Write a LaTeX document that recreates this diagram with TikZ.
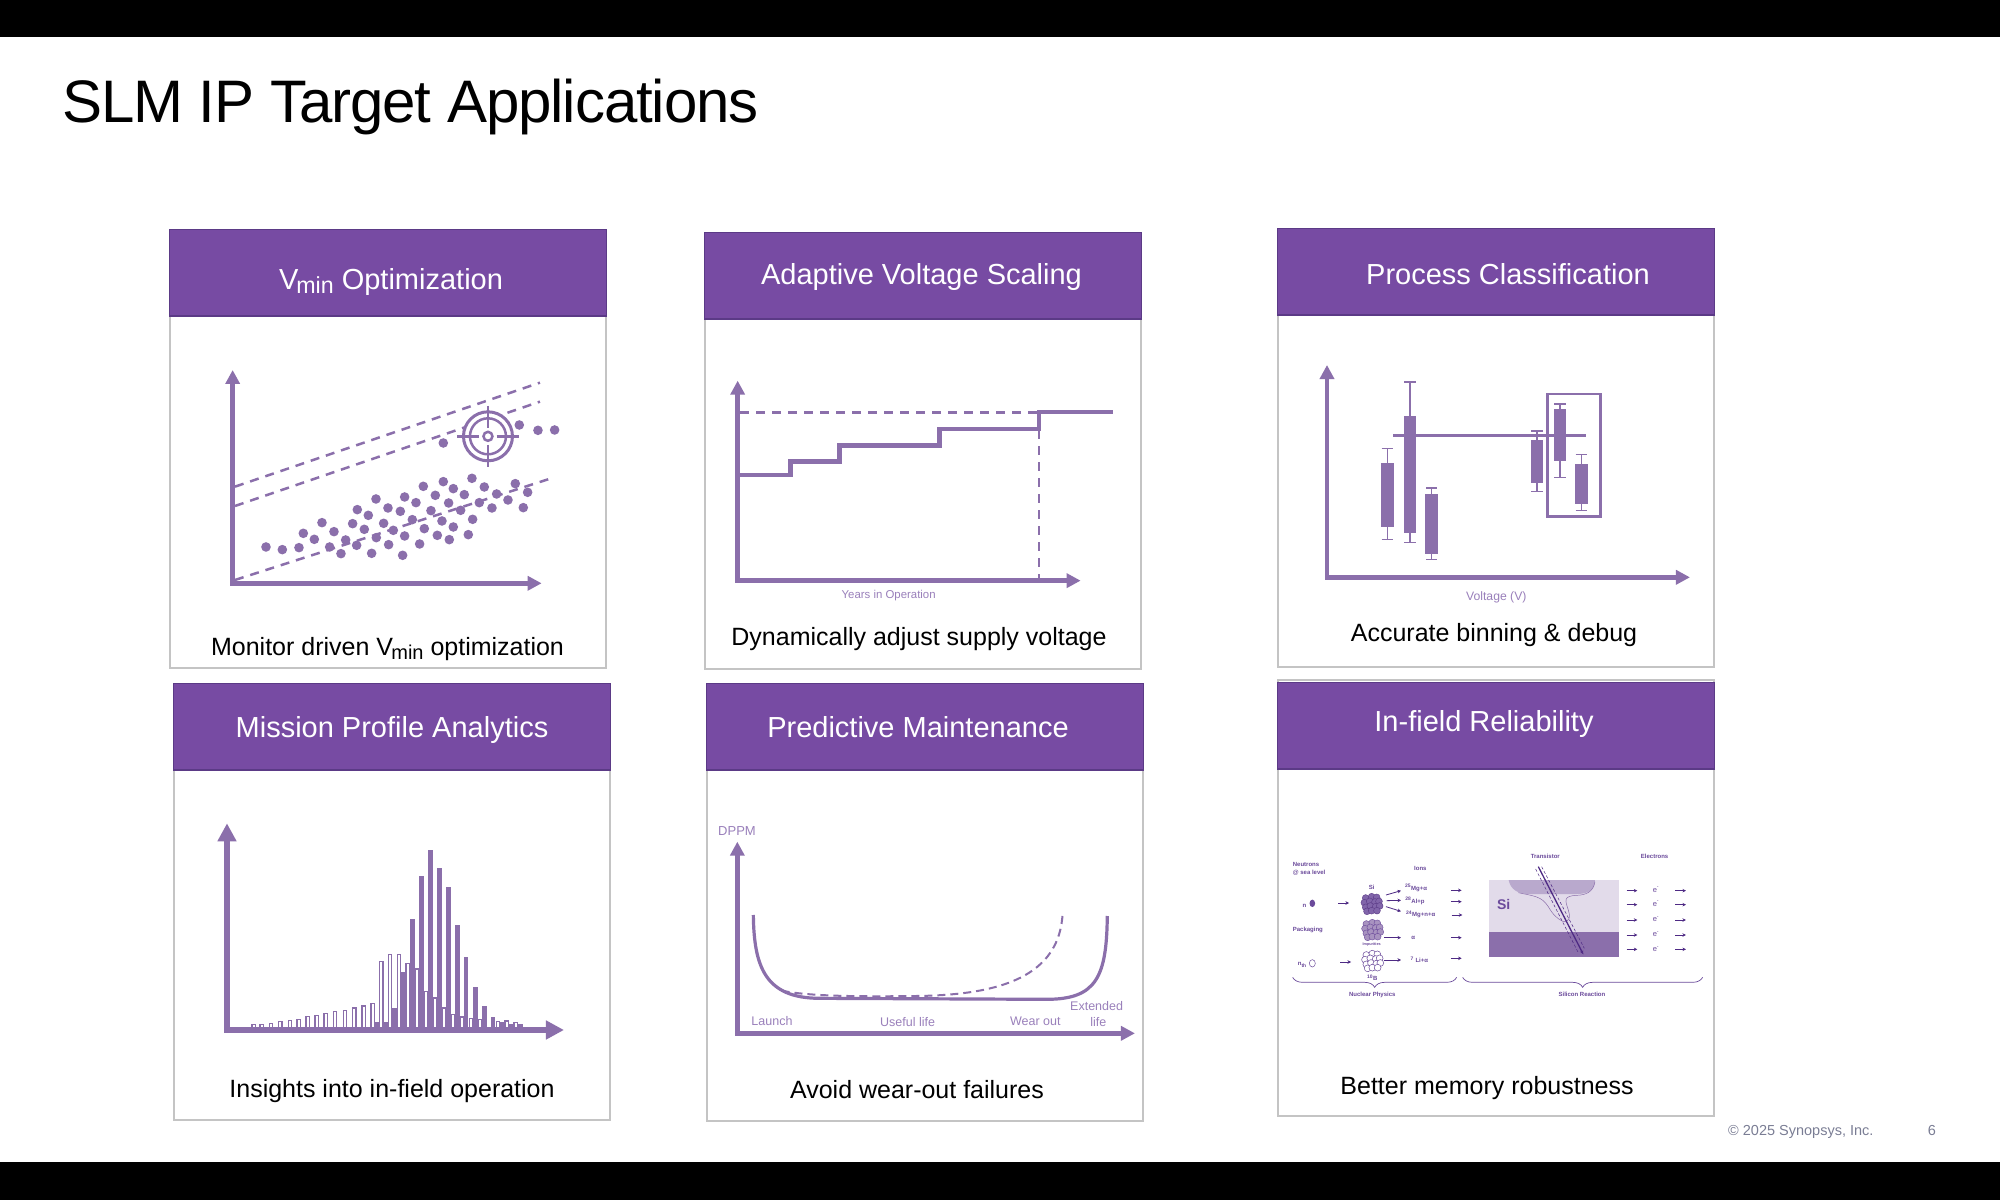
\documentclass[tikz,border=0pt]{standalone}
\usepackage{fontspec}
\usepackage{graphicx}
\setmainfont{Liberation Sans}
\usepackage{tikz}
\usetikzlibrary{positioning}
\usetikzlibrary{arrows.meta, decorations.pathreplacing}
\definecolor{headpurple}{HTML}{774BA3}
\definecolor{headedge}{HTML}{5B3A86}
\definecolor{chartpurple}{HTML}{8B6FAB}
\definecolor{labelpurple}{HTML}{9A80BB}
\definecolor{darkpurple}{HTML}{6B4A9B}
\definecolor{strikepurple}{HTML}{4E2A84}
\definecolor{panelgray}{HTML}{C4C4C4}
\definecolor{footgray}{HTML}{7A7D94}
\tikzstyle{panelbody} = [rectangle, minimum width=436pt, draw=panelgray, line width=2pt, fill=white, outer sep=0pt, inner sep=0pt]
\tikzstyle{head} = [rectangle, minimum width=437pt, minimum height=86.5pt, draw=headedge, line width=1.5pt, fill=headpurple, outer sep=0pt, inner sep=0pt]
\tikzstyle{headtext} = [anchor=base, inner sep=0pt, text=white, font=\fontsize{29}{34}\selectfont]
\tikzstyle{caption} = [anchor=base, inner sep=0pt, text=black, font=\fontsize{25}{29}\selectfont]
\tikzstyle{axis} = [draw=chartpurple, line width=5pt, {Triangle[length=14pt,width=14pt]}-{Triangle[length=14pt,width=14pt]}]
\tikzstyle{chartline} = [draw=chartpurple, line width=4.5pt]
\tikzstyle{limit} = [draw=chartpurple, line width=2.5pt, dash pattern=on 9pt off 7pt]
\tikzstyle{axistext} = [anchor=base, inner sep=0pt, text=labelpurple]
\tikzstyle{small} = [anchor=base, inner sep=0pt, text=darkpurple, font=\fontsize{6}{7}\selectfont\bfseries]
\tikzstyle{arrow} = [draw=strikepurple, line width=0.8pt, -{Stealth[length=3.5pt,width=3.5pt]}]
\tikzstyle{zoomed} = [x=0.3333pt, y=-0.3333pt]
\tikzset{atomdark/.style={draw=headedge, fill=darkpurple!85, line width=0.4pt},
  atommid/.style={draw=darkpurple, fill=chartpurple!75, line width=0.4pt},
  atomopen/.style={draw=darkpurple, fill=white, line width=0.5pt}}
\newcommand{\vmin}{V\kern-0.07em\raisebox{-0.16em}{\scalebox{0.8}{min}}}
\newcommand{\atoms}[3]{\foreach \dx/\dy in {-18/-18,0/-22,15/-20,-22/-4,-6/-8,10/-6,22/-8,-18/10,-4/6,12/8,24/6,-14/22,0/20,16/20}
  \draw[#3] (#1+\dx,#2+\dy) circle [radius=3.4pt];}

\begin{document}
\begin{tikzpicture}[x=1pt, y=-1pt]
    \useasboundingbox (0,0) rectangle (2000,1200);
    \fill[black] (0,0) rectangle (2000,37);
    \fill[black] (0,1162) rectangle (2000,1200);
    \node (title) [anchor=base west, inner sep=0pt, font=\fontsize{60}{70}\selectfont\addfontfeatures{LetterSpace=-1.8}] at (62,122) {SLM IP Target Applications};

    % panels
    \node (vminbody) [panelbody, minimum height=352pt] at (388,492) {};
    \node (vminhead) [head, above=0pt of vminbody] {};
    \node (avsbody) [panelbody, minimum height=350pt] at (923,494) {};
    \node (avshead) [head, above=0pt of avsbody] {};
    \node (procbody) [panelbody, minimum height=352pt] at (1496,491) {};
    \node (prochead) [head, above=0pt of procbody] {};
    \node (missionbody) [panelbody, minimum height=350pt] at (392,945) {};
    \node (missionhead) [head, above=0pt of missionbody] {};
    \node (maintbody) [panelbody, minimum height=351pt] at (925,945.5) {};
    \node (mainthead) [head, above=0pt of maintbody] {};
    \node (relbody) [panelbody, minimum height=436pt] at (1495.5,898) {};
    \node (relhead) [head] at (1496,725.5) {};

    \node (vmintitle) [headtext] at (391,289) {\vmin\ Optimization};
    \node (avstitle) [headtext] at (921.5,284) {Adaptive Voltage Scaling};
    \node (proctitle) [headtext] at (1508,284) {Process Classification};
    \node (missiontitle) [headtext] at (392,737) {Mission Profile Analytics};
    \node (mainttitle) [headtext] at (918,737) {Predictive Maintenance};
    \node (reltitle) [headtext] at (1484,731) {In-field Reliability};

    \node (vmincap) [caption] at (387.5,655) {Monitor driven \vmin\ optimization};
    \node (avscap) [caption] at (919,645) {Dynamically adjust supply voltage};
    \node (proccap) [caption] at (1494,641) {Accurate binning \& debug};
    \node (missioncap) [caption] at (392,1097) {Insights into in-field operation};
    \node (maintcap) [caption] at (917,1098) {Avoid wear-out failures};
    \node (relcap) [caption] at (1487,1094) {Better memory robustness};

    \node (copyright) [anchor=base west, inner sep=0pt, text=footgray, font=\fontsize{14.5}{17}\selectfont] at (1728,1135) {© 2025 Synopsys, Inc.};
    \node (pagenum) [anchor=base, inner sep=0pt, text=footgray, font=\fontsize{14.5}{17}\selectfont] at (1932,1135) {6};

    % vmin chart
    \begin{scope}[shift={(160,220)}, zoomed]
        \draw [limit] (225,800) -- (1140,488);
        \draw [limit] (225,858) -- (1140,545);
        \draw [limit] (225,1080) -- (1180,773);
        \draw [axis] (218,450) -- (218,1090) -- (1145,1090);
        \foreach \x/\y in {318/981,367/989,417/983,430/940,463/958,486/908,522/935,509/981,543/1001,557/960,578/911,592/869,625/886,613/928,590/976,649/953,635/1000,648/837,684/864,671/910,700/931,686/974,734/948,728/1006,721/874,757/899,734/831,768/848,813/872,793/926,779/972,790/799,826/826,866/849,846/903,832/946,868/959,880/921,850/785,880/806,913/824,902/871,938/898,925/944,936/775,973/801,958/848,1010/822,996/864,1044/840,1066/791,1103/817,1090/863,850/669,1078/615,1134/631,1184/630}
            \fill[chartpurple] (\x,\y) circle [radius=4.8pt];
        \draw[chartpurple, line width=3pt, fill=white] (984,649) circle [radius=24.5pt];
        \draw[chartpurple, line width=2.5pt] (984,649) circle [radius=18pt];
        \draw[chartpurple, line width=2.5pt] (984,649) circle [radius=4.5pt];
        \draw[chartpurple, line width=2.5pt] (892,649) -- (958,649) (1010,649) -- (1076,649) (984,558) -- (984,623) (984,675) -- (984,742);
    \end{scope}

    % voltage steps
    \begin{scope}[shift={(700,360)}, zoomed]
        \draw [limit] (120,158) -- (1015,158);
        \draw [limit] (1017,210) -- (1017,662);
        \draw [axis, line width=4.5pt] (113,62) -- (113,662) -- (1142,662);
        \draw [chartline] (120,345) -- (272,345) -- (272,305) -- (418,305) -- (418,257) -- (718,257) -- (718,207) -- (1017,207) -- (1017,156) -- (1240,156);
        \node (yearstext) [axistext, font=\fontsize{11.4}{14}\selectfont] at (566,715) {Years in Operation};
    \end{scope}

    % process candles
    \begin{scope}[shift={(1290,350)}, zoomed]
        \draw [axis, line width=4.5pt] (111,45) -- (111,682) -- (1200,682);
        \foreach \x/\boxtop/\boxbot/\whtop/\whbot in {292/338/530/295/568,360/197/550/96/577,425/433/611/414/628,741/270/399/243/425,810/178/333/162/383,874/342/461/314/481}{
            \draw[chartpurple, line width=1.5pt] (\x,\whtop) -- (\x,\whbot) (\x-17,\whtop) -- (\x+17,\whtop) (\x-17,\whbot) -- (\x+17,\whbot);
            \fill[chartpurple] (\x-19,\boxtop) rectangle (\x+19,\boxbot);
        }
        \draw[chartpurple, line width=3pt] (310,256) -- (888,256);
        \draw[chartpurple, line width=2.8pt] (772,132) rectangle (932,499);
        \node (volttext) [axistext, font=\fontsize{12.2}{15}\selectfont] at (619,752) {Voltage (V)};
    \end{scope}

    % mission histogram
    \begin{scope}[shift={(170,800)}, zoomed]
        \foreach \x/\t in {251/674,275/673,303/671,331/665,360/661,386/658,413/650,440/646,467/640,495/634,525/631,553/624,581/618,608/611,634/484,660/463,687/463,713/490,740/507,767/574,794/594,822/624,849/644,876/651,903/655,930/659,984/665,1010/663,1037/668}
            \draw[chartpurple, line width=1.1pt, fill=white] (\x-5,690) rectangle (\x+5,\t);
        \foreach \x/\t in {621/667,648/667,674/624,701/517,727/358,754/227,781/149,808/203,835/261,862/375,888/472,916/562,943/617,969/650,996/667,1023/672,1051/672}
            \fill[chartpurple] (\x-7,690) rectangle (\x+7,\t);
        \draw [axis, line width=5.5pt, {Triangle[length=18pt,width=18pt]}-{Triangle[length=18pt,width=18pt]}] (171,70) -- (171,690) -- (1182,690);
    \end{scope}

    % bathtub curve
    \begin{scope}[shift={(700,810)}, zoomed]
        \draw [axis, line width=4.5pt] (112,95) -- (112,670) -- (1305,670);
        \draw[chartpurple, line width=3.2pt] (160,315) .. controls (162,470) and (195,565) .. (360,565) -- (1040,568) .. controls (1190,568) and (1220,500) .. (1222,318);
        \draw[chartpurple, line width=2pt, dash pattern=on 8pt off 5pt] (245,542) .. controls (330,560) and (500,560) .. (650,558) .. controls (900,555) and (1080,500) .. (1088,308);
        \node (dppmtext) [axistext, font=\fontsize{13}{15}\selectfont] at (111,76) {DPPM};
        \node (launchtext) [axistext, font=\fontsize{12.5}{15}\selectfont] at (216,647) {Launch};
        \node (usefultext) [axistext, font=\fontsize{12.5}{15}\selectfont] at (623,649) {Useful life};
        \node (weartext) [axistext, font=\fontsize{12.5}{15}\selectfont] at (1006,647) {Wear out};
        \node (extendtext) [axistext, font=\fontsize{12.5}{15}\selectfont] at (1190,603) {Extended};
        \node (lifetext) [axistext, font=\fontsize{12.5}{15}\selectfont] at (1195,649) {life};
    \end{scope}

    % soft error physics
    \begin{scope}[shift={(1270,820)}, zoomed]
        \node (neutrons) [small, anchor=base west] at (68,139) {Neutrons};
        \node (sealevel) [small, anchor=base west] at (68,162) {@ sea level};
        \node (ions) [small] at (451,151) {Ions};
        \node (sitext) [small] at (305,207) {Si};
        \node (ntext) [small] at (103,262) {n};
        \node (packaging) [small, anchor=base west] at (68,335) {Packaging};
        \node (impurities) [small, font=\fontsize{3.8}{5}\selectfont\bfseries] at (305,377) {Impurities};
        \node (nthtext) [small] at (97,437) {n\textsubscript{th}};
        \node (boron) [small] at (307,483) {\textsuperscript{10}B};
        \node (mgalpha) [small] at (438,211) {\textsuperscript{25}Mg+α};
        \node (alp) [small] at (435,249) {\textsuperscript{28}Al+p};
        \node (mgn) [small] at (452,290) {\textsuperscript{24}Mg+n+α};
        \node (alpha) [small] at (430,358) {α};
        \node (lialpha) [small] at (448,428) {\textsuperscript{7} Li+α};
        \node (nuclear) [small] at (307,531) {Nuclear Physics};
        \node (silicon) [small] at (936,530) {Silicon Reaction};
        \node (transistor) [small] at (826,115) {Transistor};
        \node (electrons) [small] at (1154,115) {Electrons};
        \fill[darkpurple] (127,250) ellipse [x radius=2.8pt, y radius=3.7pt];
        \draw[darkpurple, line width=0.5pt, fill=white] (127,430) ellipse [x radius=3pt, y radius=3.7pt];
        \atoms{305}{252}{atomdark}
        \atoms{307}{330}{atommid}
        \atoms{307}{423}{atomopen}
        % arrows
        \foreach \xa/\ya/\xb/\yb in {205/249/237/249,348/225/393/212,350/242/393/241,348/260/393/274,343/353/393/353,211/426/243/426,343/420/393/420,543/211/575/211,543/245/575/245,545/285/577/285,543/353/575/353,543/415/575/415}
            \draw [arrow] (\xa,\ya) -- (\xb,\yb);
        \foreach \y/\b in {212/216,254/258,300/305,345/350,388/395}{
            \draw [arrow] (1070,\y) -- (1102,\y);
            \draw [arrow] (1216,\y) -- (1248,\y);
            \node [small, font=\fontsize{7.5}{8}\selectfont] at (1158,\b) {e\textsuperscript{-}};
        }
        % silicon block
        \fill[chartpurple!25] (658,180) rectangle (1047,337);
        \fill[chartpurple] (658,337) rectangle (1047,412);
        \fill[chartpurple!60] (716,180) .. controls (722,210) and (745,222) .. (780,222) -- (920,222) .. controls (955,222) and (975,210) .. (975,180) -- cycle;
        \draw[chartpurple, line width=0.5pt] (745,218) .. controls (790,228) and (815,228) .. (835,260) .. controls (850,285) and (860,295) .. (880,305) .. controls (900,305) and (902,290) .. (895,270) .. controls (885,240) and (880,228) .. (920,226) .. controls (950,225) and (970,215) .. (975,185);
        \node (sisymbol) [small, font=\fontsize{14}{16}\selectfont\bfseries] at (701,269) {Si};
        \draw[strikepurple, line width=1.3pt, -{Stealth[length=4pt,width=3.5pt]}] (805,140) -- (940,403);
        \draw[strikepurple, line width=0.5pt, dash pattern=on 3pt off 2pt] (797,147) -- (925,398);
        \draw[strikepurple, line width=0.5pt, dash pattern=on 3pt off 2pt] (815,140) -- (943,385);
        % braces
        \draw[darkpurple, line width=0.7pt, decorate, decoration={brace, mirror, amplitude=10pt}] (68,472) -- (560,472);
        \draw[darkpurple, line width=0.7pt, decorate, decoration={brace, mirror, amplitude=10pt}] (578,472) -- (1298,472);
    \end{scope}
\end{tikzpicture}
\end{document}
